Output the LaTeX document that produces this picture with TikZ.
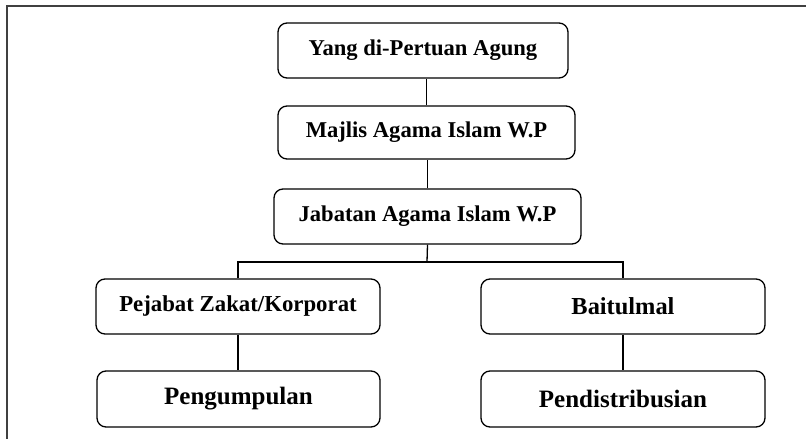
\documentclass[tikz,border=0pt]{standalone}
\usepackage{fontspec}
\setmainfont{Liberation Serif}
\begin{document}
\begin{tikzpicture}[x=1pt,y=-1pt,
  orgbox/.style={draw=black, line width=1.3pt, rounded corners=9pt, inner sep=0pt, align=center, font=\bfseries},
  link/.style={draw=black, line width=1.3pt}]
\useasboundingbox (0,0) rectangle (806,439);
\draw[line width=2.2pt, draw=black!75] (7,439) -- (7,6) -- (806,6);
\node[orgbox, minimum width=290pt, minimum height=55pt, font=\bfseries\fontsize{22.6}{26}\selectfont] (b1) at (423,50.5) {Yang di-Pertuan Agung};
\node[orgbox, minimum width=297pt, minimum height=53pt, font=\bfseries\fontsize{22.6}{26}\selectfont] (b2) at (426.5,132.5) {Majlis Agama Islam W.P};
\node[orgbox, minimum width=307pt, minimum height=55pt, font=\bfseries\fontsize{22.6}{26}\selectfont] (b3) at (427.5,216.5) {Jabatan Agama Islam W.P};
\node[orgbox, minimum width=284pt, minimum height=55pt, font=\bfseries\fontsize{22.8}{26}\selectfont] (b4) at (238,306.5) {Pejabat Zakat/Korporat};
\node[orgbox, minimum width=284pt, minimum height=55pt, font=\bfseries\fontsize{24.4}{28}\selectfont] (b5) at (623,306.5) {Baitulmal};
\node[orgbox, minimum width=283pt, minimum height=56pt, font=\bfseries\fontsize{25}{29}\selectfont] (b6) at (238.5,399) {Pengumpulan};
\node[orgbox, minimum width=284pt, minimum height=56pt, font=\bfseries\fontsize{25}{29}\selectfont] (b7) at (623,399) {Pendistribusian};
\coordinate (bus) at (427,262);
\draw[link] (b2.north) -- (b2.north |- b1.south);
\draw[link] (b3.north) -- (b3.north |- b2.south);
\draw[link] (b3.south) -- (bus);
\draw[link] (b4.north) |- (bus) -| (b5.north);
\draw[link] (b4.south) -- (b4.south |- b6.north);
\draw[link] (b5.south) -- (b5.south |- b7.north);
\end{tikzpicture}
\end{document}
